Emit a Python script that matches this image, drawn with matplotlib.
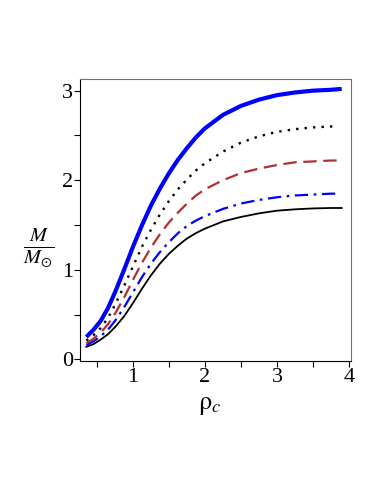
import numpy as np
import matplotlib
matplotlib.use("Agg")
import matplotlib.pyplot as plt

plt.rcParams['mathtext.fontset'] = 'stix'
plt.rcParams['font.family'] = ['Liberation Serif', 'DejaVu Serif']

# central density values
rho_c = [0.35, 0.45, 0.55, 0.65, 0.75, 0.875, 1.0, 1.125, 1.25, 1.375, 1.5, 1.625,
         1.75, 1.875, 2.0, 2.25, 2.5, 2.75, 3.0, 3.25, 3.5, 3.75, 3.9]
# dotted and dash-dot curves stop a little earlier
rho_c_short = rho_c[:-1] + [3.85]

# masses M/M_sun for the five curves
mass_thick = [0.25, 0.33, 0.43, 0.57, 0.75, 1.00, 1.26, 1.50, 1.72, 1.91, 2.08, 2.23,
              2.36, 2.48, 2.58, 2.73, 2.83, 2.90, 2.95, 2.98, 3.00, 3.01, 3.02]
mass_dot = [0.21, 0.27, 0.35, 0.46, 0.61, 0.82, 1.04, 1.26, 1.45, 1.62, 1.77, 1.90,
            2.01, 2.11, 2.19, 2.32, 2.42, 2.49, 2.54, 2.57, 2.59, 2.60, 2.61]
mass_dash = [0.18, 0.23, 0.30, 0.39, 0.51, 0.69, 0.89, 1.08, 1.25, 1.40, 1.53, 1.64,
             1.74, 1.83, 1.90, 2.00, 2.08, 2.13, 2.17, 2.20, 2.21, 2.22, 2.22]
mass_dashdot = [0.16, 0.20, 0.26, 0.33, 0.43, 0.58, 0.75, 0.92, 1.07, 1.20, 1.31, 1.41,
                1.49, 1.55, 1.60, 1.68, 1.74, 1.78, 1.81, 1.83, 1.84, 1.85, 1.85]
mass_solid = [0.14, 0.17, 0.22, 0.28, 0.36, 0.48, 0.63, 0.79, 0.94, 1.07, 1.18, 1.27,
              1.35, 1.41, 1.46, 1.54, 1.59, 1.63, 1.66, 1.675, 1.685, 1.69, 1.69]

fig = plt.figure(figsize=(3.82, 4.94), dpi=100)
ax = fig.add_axes([0.209, 0.269, 0.710, 0.571])

ax.plot(rho_c, mass_solid, color='black', lw=1.3)
ax.plot(rho_c_short, mass_dashdot, color='#0000ff', lw=1.6, linestyle=(0, (6, 2.5, 1.2, 2.5)))
ax.plot(rho_c, mass_dash, color='#b03030', lw=1.6, linestyle=(0, (6, 3)))
ax.plot(rho_c_short, mass_dot, color='black', lw=1.7, linestyle=(0, (1, 2.6)))
ax.plot(rho_c, mass_thick, color='#0000ff', lw=3.0, solid_capstyle='butt')

ax.set_xlim(0.26, 4.03)
ax.set_ylim(-0.02, 3.13)
ax.set_xticks([1, 2, 3, 4])
ax.set_xticks(np.arange(0.5, 4.01, 0.5), minor=True)
ax.set_yticks([0, 1, 2, 3])
ax.set_yticks(np.arange(0, 3.01, 0.5), minor=True)
ax.tick_params(which='both', direction='out', length=4, width=0.8, labelsize=16, pad=1)

for side in ['top', 'right']:
    ax.spines[side].set_color('#707070')
for side in ['left', 'bottom']:
    ax.spines[side].set_color('black')

fig.text(0.10, 0.497, r'$\frac{M}{M_{\odot}}$', fontsize=21, ha='center', va='center')
fig.text(0.55, 0.178, r'$\mathrm{\rho}_{\mathit{c}}$', fontsize=19, ha='center', va='center')

plt.savefig('out.png', dpi=100)
plt.close()
